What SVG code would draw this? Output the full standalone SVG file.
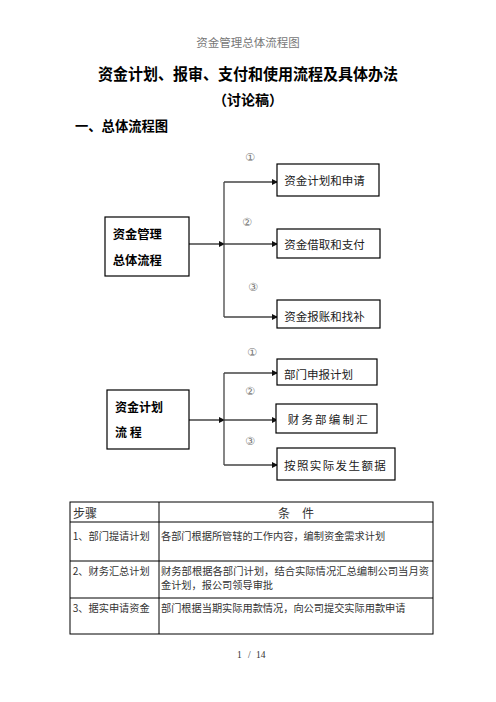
<svg xmlns="http://www.w3.org/2000/svg" width="496" height="702" viewBox="0 0 496 702">
<style>
.cjk{font-family:"Noto Sans CJK SC","Noto Sans CJK JP",sans-serif}
.b{font-weight:bold;fill:#000}
.n{fill:#222}
.box{fill:#fff;stroke:#000;stroke-width:1.2}
.ln{fill:none;stroke:#444;stroke-width:1.3}
.num{font-family:"DejaVu Sans","Noto Sans CJK SC",sans-serif;font-size:11px;fill:#777}
.tb{fill:none;stroke:#000;stroke-width:1}
.td{font-size:10.2px;fill:#333}
</style>
<defs>
<marker id="ah" markerWidth="6" markerHeight="6" refX="5" refY="3" orient="auto" markerUnits="userSpaceOnUse">
<path d="M0,0 L6,3 L0,6 Z" fill="#111"/>
</marker>
</defs>
<rect width="496" height="702" fill="#fff"/>
<text x="248" y="47" text-anchor="middle" class="cjk" font-size="11.5" fill="#777">资金管理总体流程图</text>
<text x="248" y="80" text-anchor="middle" class="cjk b" font-size="15.8" textLength="300" lengthAdjust="spacingAndGlyphs">资金计划、报审、支付和使用流程及具体办法</text>
<text x="248" y="105" text-anchor="middle" class="cjk b" font-size="14">（讨论稿）</text>
<text x="75" y="130.5" class="cjk b" font-size="13.3">一、总体流程图</text>

<g id="connectors">
<line class="ln" x1="189" y1="244" x2="224" y2="244" marker-end="url(#ah)"/>
<line class="ln" x1="224" y1="182" x2="224" y2="317"/>
<line class="ln" x1="224" y1="182" x2="277" y2="182" marker-end="url(#ah)"/>
<line class="ln" x1="224" y1="244" x2="277" y2="244" marker-end="url(#ah)"/>
<line class="ln" x1="224" y1="317" x2="277" y2="317" marker-end="url(#ah)"/>
<line class="ln" x1="189" y1="420" x2="224" y2="420" marker-end="url(#ah)"/>
<line class="ln" x1="224" y1="373" x2="224" y2="465"/>
<line class="ln" x1="224" y1="373" x2="277" y2="373" marker-end="url(#ah)"/>
<line class="ln" x1="224" y1="420" x2="277" y2="420" marker-end="url(#ah)"/>
<line class="ln" x1="224" y1="465" x2="277" y2="465" marker-end="url(#ah)"/>
<text x="250" y="161" text-anchor="middle" class="num">①</text>
<text x="247" y="226" text-anchor="middle" class="num">②</text>
<text x="253" y="291" text-anchor="middle" class="num">③</text>
<text x="252" y="356" text-anchor="middle" class="num">①</text>
<text x="250" y="395" text-anchor="middle" class="num">②</text>
<text x="250" y="445" text-anchor="middle" class="num">③</text>
</g>

<g id="n_main1">
<rect class="box" x="105" y="217" width="84" height="59"/>
<text x="112.7" y="239" class="cjk b" font-size="12.3">资金管理</text>
<text x="112.7" y="264.5" class="cjk b" font-size="12.3">总体流程</text>
</g>
<g id="n_a1">
<rect class="box" x="277" y="164" width="102" height="32"/>
<text x="284.3" y="185" class="cjk n" font-size="11.5">资金计划和申请</text>
</g>
<g id="n_a2">
<rect class="box" x="277" y="229" width="103" height="29"/>
<text x="284.3" y="249" class="cjk n" font-size="11.5">资金借取和支付</text>
</g>
<g id="n_a3">
<rect class="box" x="277" y="300" width="103" height="28"/>
<text x="284.3" y="321" class="cjk n" font-size="11.5">资金报账和找补</text>
</g>

<g id="n_main2">
<rect class="box" x="107" y="390" width="82" height="59"/>
<text x="115" y="412" class="cjk b" font-size="12">资金计划</text>
<text x="115" y="437" class="cjk b" font-size="12">流 程</text>
</g>
<g id="n_b1">
<rect class="box" x="277" y="359" width="100" height="26"/>
<text x="284" y="379" class="cjk n" font-size="11.5">部门申报计划</text>
</g>
<g id="n_b2">
<rect class="box" x="276" y="404" width="101" height="29"/>
<text x="287.7" y="424" class="cjk n" font-size="11.5" letter-spacing="2.2">财务部编制汇</text>
</g>
<g id="n_b3">
<rect class="box" x="277" y="448" width="118" height="32"/>
<text x="284" y="470" class="cjk n" font-size="11.5" letter-spacing="1.4">按照实际发生额据</text>
</g>

<g id="table">
<rect class="tb" x="70" y="502" width="363" height="132"/>
<line class="tb" x1="159" y1="502" x2="159" y2="634"/>
<line class="tb" x1="70" y1="522" x2="433" y2="522"/>
<line class="tb" x1="70" y1="561" x2="433" y2="561"/>
<line class="tb" x1="70" y1="598" x2="433" y2="598"/>
<text x="73" y="518" class="cjk" font-size="12" fill="#333">步骤</text>
<text x="296" y="518" text-anchor="middle" class="cjk" font-size="12" fill="#333">条　件</text>
<text x="72.7" y="539.5" class="cjk td">1、部门提请计划</text>
<text x="161" y="539.5" class="cjk td">各部门根据所管辖的工作内容，编制资金需求计划</text>
<text x="72.7" y="575" class="cjk td">2、财务汇总计划</text>
<text x="161" y="575" class="cjk td" textLength="268" lengthAdjust="spacingAndGlyphs">财务部根据各部门计划，结合实际情况汇总编制公司当月资</text>
<text x="161" y="588.5" class="cjk td">金计划，报公司领导审批</text>
<text x="72.7" y="611.5" class="cjk td">3、据实申请资金</text>
<text x="161" y="611.5" class="cjk td">部门根据当期实际用款情况，向公司提交实际用款申请</text>
</g>

<g font-family="Liberation Serif,serif" font-size="9.5" fill="#333">
<text x="237" y="658">1</text>
<text x="248" y="658">/</text>
<text x="256" y="658">14</text>
</g>
</svg>
